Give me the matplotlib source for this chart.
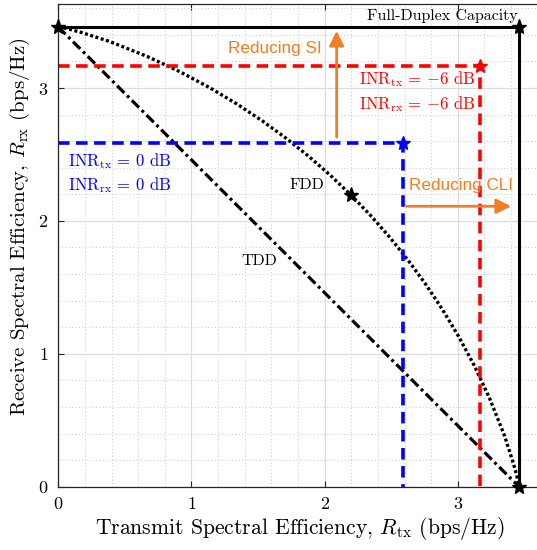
import matplotlib
matplotlib.use("Agg")
import matplotlib.pyplot as plt
from matplotlib.ticker import MultipleLocator

plt.rcParams['font.family'] = 'serif'
plt.rcParams['font.serif'] = ['cmr10']
plt.rcParams['mathtext.fontset'] = 'cm'
plt.rcParams['axes.unicode_minus'] = False
plt.rcParams['axes.formatter.use_mathtext'] = True

# ---- data ----
capacity = 3.459
fd_x = [0, capacity, capacity]
fd_y = [capacity, capacity, 0]
tdd_x = [0, capacity]
tdd_y = [capacity, 0]
fdd_x = [0, 0.055, 0.100, 0.179, 0.383, 0.666, 0.912, 1.134, 1.339, 1.530, 1.710,
         1.880, 2.042, 2.196, 2.344, 2.486, 2.622, 2.754, 2.881, 3.004, 3.123, 3.238,
         3.351, 3.416, 3.438, 3.449, 3.459]
fdd_y = [3.459, 3.449, 3.438, 3.416, 3.351, 3.238, 3.123, 3.004, 2.881, 2.754, 2.622,
         2.486, 2.344, 2.196, 2.042, 1.880, 1.710, 1.530, 1.339, 1.134, 0.912, 0.666,
         0.383, 0.179, 0.100, 0.055, 0]
fdd_star = (2.196, 2.196)
inr0_rate = 2.585
inr6_rate = 3.169
xticks = [0, 1, 2, 3]
yticks = [0, 1, 2, 3]
lim = 3.632

orange = '#F07E22'

fig = plt.figure(figsize=(5.37, 5.5), dpi=100)
ax = fig.add_axes([0.1086, 0.1151, 0.9007, 0.8776])

# grid
ax.set_xlim(0, lim)
ax.set_ylim(0, lim)
ax.xaxis.set_minor_locator(MultipleLocator(0.2))
ax.yaxis.set_minor_locator(MultipleLocator(0.2))
ax.set_xticks(xticks)
ax.set_yticks(yticks)
ax.grid(which='major', color='#dcdcdc', lw=0.9, ls='-')
ax.grid(which='minor', color='#c8c8c8', lw=0.7, ls=(0, (1, 2.5)))
ax.set_axisbelow(True)
ax.tick_params(which='major', direction='in', length=4, width=0.8, top=True, right=False,
               labelsize=13, color='#262626', pad=7)
ax.tick_params(which='minor', length=0)
for s in ax.spines.values():
    s.set_color('#262626')
    s.set_linewidth(0.9)
ax.spines['right'].set_visible(False)

# full-duplex capacity
ax.plot(fd_x, fd_y, color='black', lw=2.2, solid_joinstyle='miter')
ax.plot([0, capacity, capacity], [capacity, capacity, 0], ls='none', marker='*',
        color='black', ms=11, clip_on=False, zorder=5)
# TDD
ax.plot(tdd_x, tdd_y, color='black', lw=2.3, ls=(0, (3.2, 1.2, 0.9, 1.2)))
# FDD
ax.plot(fdd_x, fdd_y, color='black', lw=2.4, ls=(0, (0.9, 0.75)))
ax.plot([fdd_star[0]], [fdd_star[1]], marker='*', color='black', ms=11, zorder=5)

# INR = 0 dB
ax.plot([0, inr0_rate, inr0_rate], [inr0_rate, inr0_rate, 0], color='blue', lw=2.6,
        ls=(0, (3.2, 1.8)))
ax.plot([inr0_rate], [inr0_rate], marker='*', color='blue', ms=10, zorder=5)
# INR = -6 dB
ax.plot([0, inr6_rate, inr6_rate], [inr6_rate, inr6_rate, 0], color='red', lw=2.6,
        ls=(0, (3.2, 1.8)))
ax.plot([inr6_rate], [inr6_rate], marker='*', color='red', ms=10, zorder=5)

# arrows
ax.annotate('', xy=(2.09, 3.43), xytext=(2.09, 2.63),
            arrowprops=dict(arrowstyle='-|>', color=orange, lw=2.0, mutation_scale=22,
                            shrinkA=0, shrinkB=0))
ax.annotate('', xy=(3.40, 2.11), xytext=(2.615, 2.11),
            arrowprops=dict(arrowstyle='-|>', color=orange, lw=2.0, mutation_scale=22,
                            shrinkA=0, shrinkB=0))
ax.text(1.978, 3.30, 'Reducing SI', color=orange, fontsize=12.3, family='Liberation Sans',
        ha='right', va='center')
ax.text(2.635, 2.27, 'Reducing CLI', color=orange, fontsize=12.3, family='Liberation Sans',
        ha='left', va='center')

# labels
ax.text(3.45, 3.545, 'Full-Duplex Capacity', fontsize=11.5, ha='right', va='center')
ax.text(2.0, 2.27, 'FDD', fontsize=11.5, ha='right', va='center')
ax.text(1.51, 1.70, 'TDD', fontsize=11.5, ha='center', va='center')
ax.text(0.07, 2.45, r'INR$_{\mathrm{tx}}$ = 0 dB', color='blue',
        fontsize=12, ha='left', va='center')
ax.text(0.07, 2.27, r'INR$_{\mathrm{rx}}$ = 0 dB', color='blue',
        fontsize=12, ha='left', va='center')
ax.text(2.26, 3.07, r'INR$_{\mathrm{tx}}$ = $-$6 dB', color='red',
        fontsize=12, ha='left', va='center')
ax.text(2.26, 2.88, r'INR$_{\mathrm{rx}}$ = $-$6 dB', color='red',
        fontsize=12, ha='left', va='center')

fig.text(299.5 / 537, 1 - 528 / 550,
         r'Transmit Spectral Efficiency, $R_{\mathrm{tx}}$ (bps/Hz)',
         fontsize=15.6, ha='center', va='center')
fig.text(20 / 537, 1 - 227 / 550,
         r'Receive Spectral Efficiency, $R_{\mathrm{rx}}$ (bps/Hz)',
         fontsize=15, ha='center', va='center', rotation=90)

fig.savefig('out.png', dpi=100)
